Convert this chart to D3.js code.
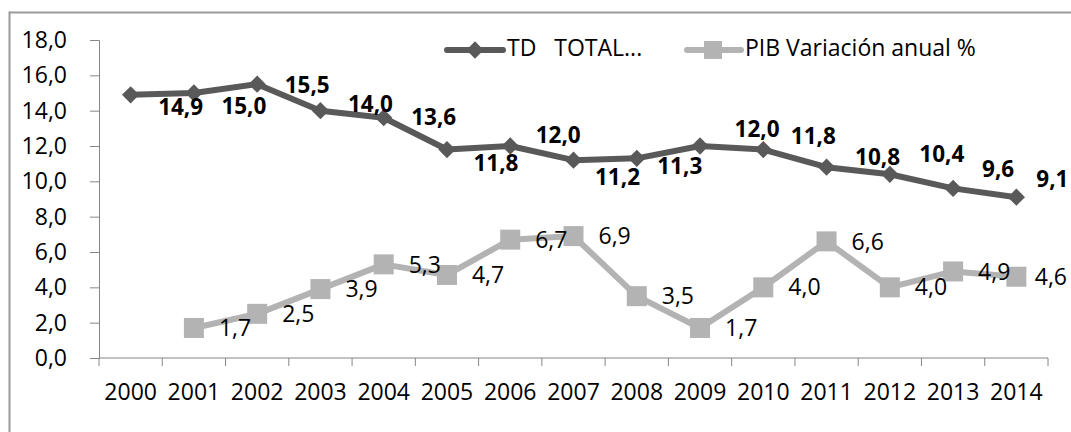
<!DOCTYPE html>
<html>
<head>
<meta charset="utf-8">
<script src="https://cdn.jsdelivr.net/npm/d3@7"></script>
<style>
  body { margin: 0; background: #fff; }
  svg { display: block; font-family: "Open Sans", sans-serif; }
</style>
</head>
<body>
<div id="chart"></div>
<script>
// data
const years = ["2000","2001","2002","2003","2004","2005","2006","2007","2008","2009","2010","2011","2012","2013","2014"];
const tdTotal = [14.9, 15.0, 15.5, 14.0, 13.6, 11.8, 12.0, 11.2, 11.3, 12.0, 11.8, 10.8, 10.4, 9.6, 9.1];
const pibYears = ["2001","2002","2003","2004","2005","2006","2007","2008","2009","2010","2011","2012","2013","2014"];
const pibVar = [1.7, 2.5, 3.9, 5.3, 4.7, 6.7, 6.9, 3.5, 1.7, 4.0, 6.6, 4.0, 4.9, 4.6];
const yTicks = [0, 2, 4, 6, 8, 10, 12, 14, 16, 18];
const seriesNames = ["TD   TOTAL...", "PIB Variación anual %"];

// the TD labels were dragged by hand in the original, offsets in px
const tdLabelOffset = [[50,14],[50,15],[50,3],[50,-5],[50,1],[49,15],[48,-9],[44,19],[43,10],[57,-15],[50,-12],[51,-8],[52,-18],[45,-17],[36,-16]];

const width = 1071, height = 432;
const margin = {top: 40, right: 23, bottom: 74, left: 99};
const fontSize = 23;

const fmt = v => d3.format(".1f")(v).replace(".", ",");

const svg = d3.select("#chart").append("svg")
    .attr("width", width)
    .attr("height", height);

// outer frame (only top and left edges are in view)
const frame = svg.append("g").attr("fill", "#9a9a9a");
frame.append("rect").attr("x", 9).attr("y", 11.5).attr("width", width - 9).attr("height", 2);
frame.append("rect").attr("x", 8.5).attr("y", 11.5).attr("width", 2).attr("height", height - 11);

const x = d3.scaleBand()
    .domain(years)
    .range([margin.left, width - margin.right]);

const y = d3.scaleLinear()
    .domain([0, 18])
    .range([height - margin.bottom, margin.top]);

const cx = d => x(d) + x.bandwidth() / 2;

// y axis
const yAxis = svg.append("g")
    .attr("transform", `translate(${margin.left},0)`)
    .call(d3.axisLeft(y).tickValues(yTicks).tickFormat(fmt).tickSize(9).tickPadding(23));
yAxis.select(".domain").attr("stroke", "#868686");
yAxis.selectAll(".tick line").attr("stroke", "#868686");
yAxis.selectAll("text").attr("font-size", fontSize).attr("fill", "#000").attr("font-family", "Open Sans");

// x axis with ticks between categories
const xAxis = svg.append("g")
    .attr("transform", `translate(0,${height - margin.bottom})`);
xAxis.append("line")
    .attr("x1", margin.left).attr("x2", width - margin.right)
    .attr("stroke", "#868686");
const edges = years.map(d => x(d)).concat([x(years[years.length - 1]) + x.bandwidth()]);
xAxis.selectAll("line.tk")
    .data(edges)
    .join("line")
    .attr("class", "tk")
    .attr("x1", d => d).attr("x2", d => d)
    .attr("y1", 0).attr("y2", 8)
    .attr("stroke", "#868686");
xAxis.selectAll("text")
    .data(years)
    .join("text")
    .attr("x", d => cx(d))
    .attr("y", 36)
    .attr("text-anchor", "middle")
    .attr("dominant-baseline", "middle")
    .attr("font-size", fontSize)
    .text(d => d);

const line = d3.line();

// PIB series
svg.append("path")
    .attr("d", line(pibYears.map((d, i) => [cx(d), y(pibVar[i])])))
    .attr("fill", "none")
    .attr("stroke", "#b3b3b3")
    .attr("stroke-width", 6)
    .attr("stroke-linejoin", "round");
svg.append("g").selectAll("rect")
    .data(pibYears)
    .join("rect")
    .attr("x", d => cx(d) - 10)
    .attr("y", (d, i) => y(pibVar[i]) - 10)
    .attr("width", 20).attr("height", 20)
    .attr("fill", "#b3b3b3");
svg.append("g").selectAll("text")
    .data(pibYears)
    .join("text")
    .attr("x", d => cx(d) + 25)
    .attr("y", (d, i) => y(pibVar[i]) + 2)
    .attr("dominant-baseline", "middle")
    .attr("font-size", fontSize)
    .text((d, i) => fmt(pibVar[i]))
    .each(function() {
      // keep the last label inside the frame, like Excel does
      const w = this.getComputedTextLength();
      const x0 = +this.getAttribute("x");
      if (x0 + w > width - 4) this.setAttribute("x", width - 4 - w);
    });

// TD series
const diamond = d3.symbol().type(d3.symbolDiamond2).size(190);
svg.append("path")
    .attr("d", line(years.map((d, i) => [cx(d), y(tdTotal[i])])))
    .attr("fill", "none")
    .attr("stroke", "#595959")
    .attr("stroke-width", 6)
    .attr("stroke-linejoin", "round");
svg.append("g").selectAll("path")
    .data(years)
    .join("path")
    .attr("transform", (d, i) => `translate(${cx(d)},${y(tdTotal[i])})`)
    .attr("d", diamond)
    .attr("fill", "#595959");
svg.append("g").selectAll("text")
    .data(years)
    .join("text")
    .attr("x", (d, i) => cx(d) + tdLabelOffset[i][0])
    .attr("y", (d, i) => y(tdTotal[i]) + tdLabelOffset[i][1])
    .attr("text-anchor", "middle")
    .attr("dominant-baseline", "middle")
    .attr("font-size", 22.5)
    .attr("font-weight", "bold")
    .text((d, i) => fmt(tdTotal[i]));

// legend
const legend = svg.append("g").attr("transform", "translate(0,50)");
legend.append("line").attr("x1", 447).attr("x2", 503)
    .attr("stroke", "#595959").attr("stroke-width", 6).attr("stroke-linecap", "round");
legend.append("path").attr("transform", "translate(475,0)").attr("d", diamond).attr("fill", "#595959");
legend.append("text").attr("x", 507).attr("dominant-baseline", "middle")
    .attr("font-size", fontSize).text(seriesNames[0]).style("white-space", "pre");
legend.append("line").attr("x1", 687).attr("x2", 741)
    .attr("stroke", "#b3b3b3").attr("stroke-width", 6).attr("stroke-linecap", "round");
legend.append("rect").attr("x", 704).attr("y", -9).attr("width", 18).attr("height", 18).attr("fill", "#b3b3b3");
legend.append("text").attr("x", 745).attr("dominant-baseline", "middle")
    .attr("font-size", fontSize).text(seriesNames[1]);
</script>
</body>
</html>
